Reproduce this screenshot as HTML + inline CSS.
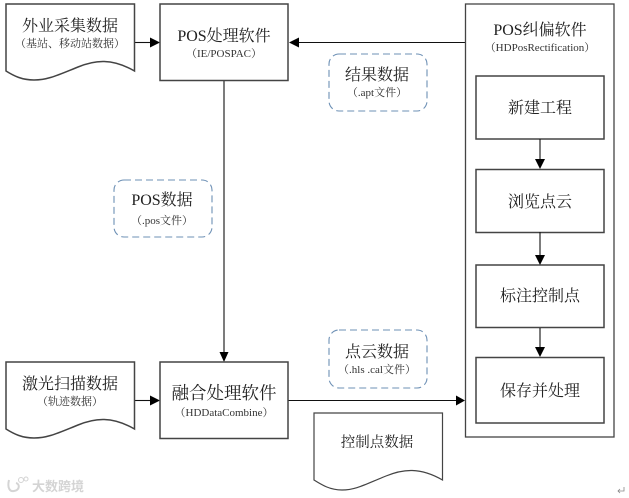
<!DOCTYPE html>
<html><head><meta charset="utf-8">
<style>
html,body{margin:0;padding:0;background:#fff;width:629px;height:498px;overflow:hidden}
svg{display:block;filter:blur(0.3px)}
text{font-family:"Liberation Serif","Noto Serif CJK SC",serif;fill:#222;text-anchor:middle}
.t{font-size:16px}
.s{font-size:11px;fill:#333}
.b{fill:#fff;stroke:#444;stroke-width:1.5}
.l{fill:none;stroke:#111;stroke-width:1.1}
.d{fill:#fff;stroke:#6d90b5;stroke-width:1.1;stroke-dasharray:7 4}
.a{fill:#000;stroke:none}
</style></head><body>
<svg width="629" height="498" viewBox="0 0 629 498" xmlns="http://www.w3.org/2000/svg">
<!-- connectors -->
<path class="l" d="M134.500 42.500H150"/><path class="a" d="M150 37.500L160 42.500L150 47.500Z"/>
<path class="l" d="M299 42.500H465"/><path class="a" d="M299 37.500L289 42.500L299 47.500Z"/>
<path d="M224 80V353" fill="none" stroke="#444" stroke-width="1.4"/><path class="a" d="M219.500 352L224 362L228.500 352Z"/>
<path class="l" d="M134.500 400.500H150"/><path class="a" d="M150 395.500L160 400.500L150 405.500Z"/>
<path class="l" d="M288 400.500H456"/><path class="a" d="M456 395.500L465 400.500L456 405.500Z"/>
<!-- documents -->
<path class="b" d="M6 4H134.500V71C112 58 95 60 78 67C58 75 48 80 34 80C22 80 14 76 6 71Z"/>
<path class="b" d="M6 362H134.500V429C112 416 95 418 78 425C58 433 48 438 34 438C22 438 14 434 6 429Z"/>
<path class="b" d="M314 413H442.500V480C420 467 403 469 386 476C366 484 356 490 342 490C330 490 322 485 314 480Z" style="stroke-width:1.2"/>
<!-- main boxes -->
<rect class="b" x="160" y="4" width="128" height="76.500"/>
<rect class="b" x="160" y="362" width="128" height="76.500"/>
<rect class="b" x="465.500" y="4" width="148.500" height="433" style="stroke-width:1.3"/>
<rect class="b" x="476" y="76" width="128" height="63"/>
<rect class="b" x="476" y="169.500" width="128" height="63"/>
<rect class="b" x="476" y="265" width="128" height="62.500"/>
<rect class="b" x="476" y="357.500" width="128" height="65.500"/>
<!-- inner arrows -->
<path class="l" d="M540 139V160"/><path class="a" d="M535 159L540 169L545 159Z"/>
<path class="l" d="M540 232V256"/><path class="a" d="M535 255L540 265L545 255Z"/>
<path class="l" d="M540 328V348"/><path class="a" d="M535 347L540 357L545 347Z"/>
<!-- dashed -->
<rect class="d" x="114" y="180" width="98" height="57" rx="10"/>
<rect class="d" x="329" y="54" width="98" height="57" rx="10"/>
<rect class="d" x="329" y="330" width="98" height="58" rx="10"/>
<!-- text -->
<text class="t" x="70" y="31">外业采集数据</text>
<text class="s" x="70" y="47">（基站、移动站数据）</text>
<text class="t" x="224" y="41">POS处理软件</text>
<text class="s" x="224" y="57">（IE/POSPAC）</text>
<text class="t" x="70" y="389">激光扫描数据</text>
<text class="s" x="70" y="405">（轨迹数据）</text>
<text class="t" x="224" y="399" style="font-size:17.500px">融合处理软件</text>
<text class="s" x="224" y="416">（HDDataCombine）</text>
<text class="t" x="540" y="35">POS纠偏软件</text>
<text class="s" x="540" y="51">（HDPosRectification）</text>
<text class="t" x="540" y="113">新建工程</text>
<text class="t" x="540" y="207">浏览点云</text>
<text class="t" x="540" y="301">标注控制点</text>
<text class="t" x="540" y="396">保存并处理</text>
<text class="t" x="162" y="205">POS数据</text>
<text class="s" x="162" y="224">（.pos文件）</text>
<text class="t" x="377" y="80">结果数据</text>
<text class="s" x="377" y="96">（.apt文件）</text>
<text class="t" x="377" y="357">点云数据</text>
<text class="s" x="377" y="373">（.hls .cal文件）</text>
<text class="t" x="377" y="447" style="font-size:14.500px">控制点数据</text>
<!-- watermark -->
<text x="58" y="491" style="font-size:13px;font-family:'Liberation Sans','Noto Sans CJK SC',sans-serif;fill:#d4d4d4;font-weight:bold">大数跨境</text>
<path d="M9 480C7 488 10 492 14 491C20 490 20 484 16 483" fill="none" stroke="#d4d4d4" stroke-width="2"/>
<circle cx="21" cy="480" r="2.500" fill="none" stroke="#d4d4d4" stroke-width="1"/>
<circle cx="26" cy="479" r="2" fill="none" stroke="#d4d4d4" stroke-width="1"/>
<path d="M624 487V491H618M620 489L618 491L620 493" fill="none" stroke="#888" stroke-width="0.8"/>
</svg>
</body></html>
